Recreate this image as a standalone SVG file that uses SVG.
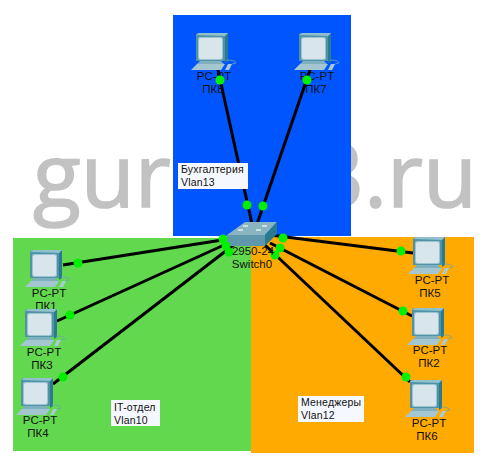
<svg xmlns="http://www.w3.org/2000/svg" width="484" height="465" viewBox="0 0 484 465">
<style>
text{font-family:"Liberation Sans",Arial,sans-serif;fill:#111}
.wm{font-family:"Open Sans",sans-serif;font-size:88px;fill:#c2c2c2;stroke:#c2c2c2;stroke-width:1.500px}
.lb{font-size:11.500px;text-anchor:middle}
.nt{font-size:10.500px;letter-spacing:.2px}
.note{fill:#f6f8ff}
.lnk{stroke:#000;stroke-width:3;fill:none}
.dot{fill:#00f000}
</style>
<defs>
<g id="pc">
<path d="M5 1L8 0H37V28H5Z" fill="#4f93a8"/>
<path d="M37 0L34 3V30L37 28Z" fill="#2a7a90"/>
<path d="M5 2L8 0H37L34 3Z" fill="#8fc0cc"/>
<rect x="7" y="4" width="25" height="23" rx="2" fill="#9cc3cf"/>
<rect x="8" y="5" width="23" height="21" rx="2" fill="#d8e6ec"/>
<path d="M9 28H30L33 31H6Z" fill="#7fb0bf"/>
<path d="M8 31H33L31 33H10Z" fill="#4f8fa2"/>
<path d="M6 31H34L30 37H0Z" fill="#a3c6d0"/>
<path d="M37 31L41 31L38 37H34Z" fill="#a9cad4"/>
<path d="M36 27Q44 27 45 30L41 31" fill="none" stroke="#6fa3b3" stroke-width=".8"/>
</g>
</defs>
<rect width="484" height="465" fill="#fff"/>
<text class="wm" x="33" y="207">gurl</text>
<text class="wm" x="477" y="207" text-anchor="end">3.ru</text>
<rect x="173" y="15" width="178" height="221" fill="#0055ff"/>
<rect x="13" y="238" width="238" height="213" fill="#62d84f"/>
<rect x="251" y="237" width="223" height="216" fill="#ffaa00"/>
<g id="connectors">
<path class="lnk" d="M218 70L252 224"/>
<path class="lnk" d="M310 70L257 224"/>
<path class="lnk" d="M63 265L235 238"/>
<path class="lnk" d="M57 321L235 240"/>
<path class="lnk" d="M53 384L240 240"/>
<path class="lnk" d="M270 235L413 253"/>
<path class="lnk" d="M270 243L412 316"/>
<path class="lnk" d="M265 245L410 382"/>
</g>
<g id="pk8"><use href="#pc" x="191" y="33"/><text class="lb" x="214" y="80">PC-PT</text><text class="lb" x="213" y="93">ПК8</text></g>
<g id="pk7"><use href="#pc" x="294" y="33"/><text class="lb" x="317" y="80">PC-PT</text><text class="lb" x="316" y="93">ПК7</text></g>
<g id="pk1"><use href="#pc" x="25" y="250"/><text class="lb" x="49" y="297">PC-PT</text><text class="lb" x="46" y="310">ПК1</text></g>
<g id="pk3"><use href="#pc" x="20" y="309"/><text class="lb" x="44" y="356">PC-PT</text><text class="lb" x="42" y="369">ПК3</text></g>
<g id="pk4"><use href="#pc" x="16" y="378"/><text class="lb" x="40" y="424">PC-PT</text><text class="lb" x="38" y="437">ПК4</text></g>
<g id="pk5"><use href="#pc" x="408" y="237"/><text class="lb" x="432" y="284">PC-PT</text><text class="lb" x="430" y="297">ПК5</text></g>
<g id="pk2"><use href="#pc" x="407" y="308"/><text class="lb" x="430" y="354">PC-PT</text><text class="lb" x="429" y="367">ПК2</text></g>
<g id="pk6"><use href="#pc" x="405" y="380"/><text class="lb" x="429" y="427">PC-PT</text><text class="lb" x="427" y="440">ПК6</text></g>
<g id="switch0">
<path d="M227 235L245 222H277L265 235Z" fill="#8ab4c0"/>
<path d="M227 235H265V246H227Z" fill="#5f98ad"/>
<path d="M265 235L277 222V234L265 246Z" fill="#2a7a90"/>
<path d="M243 226h5M262 226h5M238 230h5M256 230h5" stroke="#e4eef2" stroke-width="1.500"/>
</g>
<g id="dots">
<circle class="dot" cx="220" cy="80" r="4.500"/><circle class="dot" cx="307" cy="80" r="4.500"/>
<circle class="dot" cx="247" cy="205" r="4.500"/><circle class="dot" cx="263" cy="206" r="4.500"/>
<circle class="dot" cx="78" cy="263" r="4.500"/><circle class="dot" cx="70" cy="315" r="4.500"/><circle class="dot" cx="63" cy="377" r="4.500"/>
<circle class="dot" cx="401" cy="251" r="4.500"/><circle class="dot" cx="403" cy="311" r="4.500"/><circle class="dot" cx="406" cy="377" r="4.500"/>
<circle class="dot" cx="223" cy="239" r="4.500"/><circle class="dot" cx="226" cy="246" r="4.500"/><circle class="dot" cx="229" cy="252" r="4.500"/>
<circle class="dot" cx="283" cy="238" r="4.500"/><circle class="dot" cx="280" cy="248" r="4.500"/><circle class="dot" cx="275" cy="255" r="4.500"/>
</g>
<g id="switch-label"><text class="lb" x="253" y="255">2950-24</text><text class="lb" x="252" y="268">Switch0</text></g>
<g id="note-buh"><rect class="note" x="178" y="163" width="70" height="26"/><text class="nt" x="181" y="173">Бухгалтерия</text><text class="nt" x="181" y="186">Vlan13</text></g>
<g id="note-it"><rect class="note" x="111" y="400" width="49" height="26"/><text class="nt" x="114" y="411">IT-отдел</text><text class="nt" x="114" y="424">Vlan10</text></g>
<g id="note-men"><rect class="note" x="298" y="396" width="66" height="26"/><text class="nt" x="301" y="406">Менеджеры</text><text class="nt" x="301" y="419">Vlan12</text></g>
</svg>
